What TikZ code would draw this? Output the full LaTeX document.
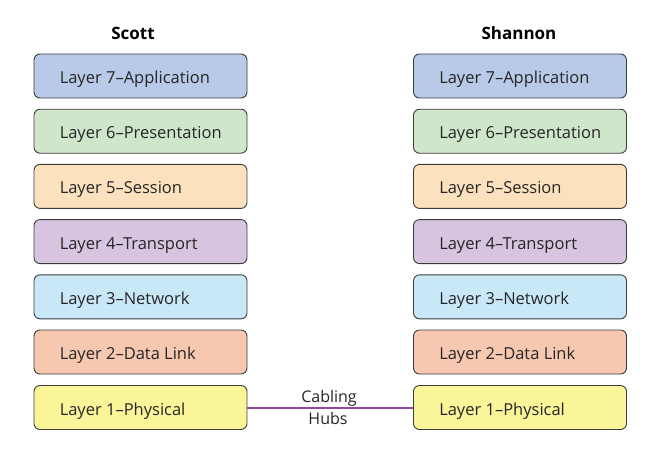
\documentclass[tikz,border=0pt]{standalone}
\usepackage{fontspec}
\setmainfont{Open Sans}
\definecolor{lseven}{HTML}{B8CAE8}
\definecolor{lsix}{HTML}{CFE6CB}
\definecolor{lfive}{HTML}{FBE1BE}
\definecolor{lfour}{HTML}{D7C4E0}
\definecolor{lthree}{HTML}{C8E8F8}
\definecolor{ltwo}{HTML}{F7C8B0}
\definecolor{lone}{HTML}{FBF59A}
\definecolor{edgegray}{HTML}{3C3C3C}
\definecolor{cablepurple}{RGB}{150,70,165}
\begin{document}
\begin{tikzpicture}[x=1pt,y=-1pt,
  layerbox/.style={draw=edgegray, line width=0.9pt, rounded corners=6pt,
    minimum height=44pt, minimum width=213pt, inner sep=0pt},
  layertext/.style={anchor=base west, inner sep=0pt, font=\fontsize{16.5}{18}\selectfont, text=black!85},
  header/.style={anchor=base, inner sep=0pt, font=\bfseries\fontsize{17}{19}\selectfont},
  cablelabel/.style={anchor=base, font=\fontsize{16}{18}\selectfont, text=black!85, inner sep=0pt},
  cableline/.style={line width=2pt, color=cablepurple}]
\useasboundingbox (0,0) rectangle (672,459);
\node[header] (scott) at (133,39.5) {Scott};
\node[header] (shannon) at (519,39.5) {Shannon};
\foreach \side/\cx in {a/140.5, b/520} {
  \foreach \n/\y/\col/\txt in {7/76/lseven/Layer 7–Application,
      6/131.2/lsix/Layer 6–Presentation,
      5/186.4/lfive/Layer 5–Session,
      4/241.6/lfour/Layer 4–Transport,
      3/296.8/lthree/Layer 3–Network,
      2/352/ltwo/Layer 2–Data Link,
      1/407.5/lone/Layer 1–Physical} {
    \node[layerbox, fill=\col] (\side\n) at (\cx,\y) {};
    \node[layertext] (\side\n t) at ([xshift=26pt,yshift=-7.5pt]\side\n.west) {\txt};
  }
}
\draw[cableline] (a1.east) -- (b1.west);
\node[cablelabel] (cabling) at (329,402.5) {Cabling};
\node[cablelabel] (hubs) at (328,424) {Hubs};
\end{tikzpicture}
\end{document}
